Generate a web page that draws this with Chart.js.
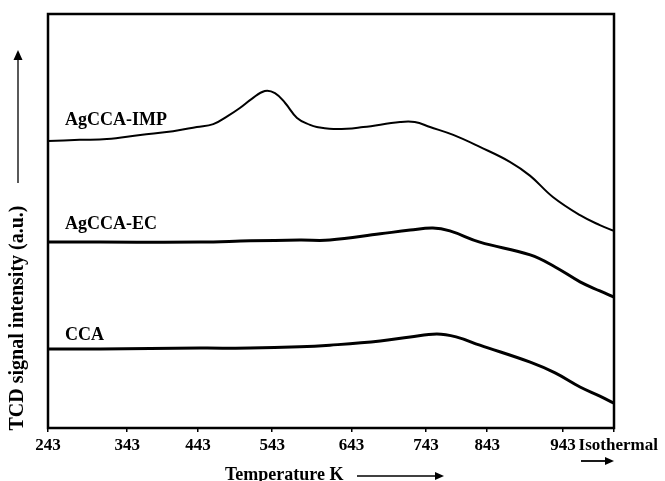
<!DOCTYPE html>
<html>
<head>
<meta charset="utf-8">
<script src="https://cdn.jsdelivr.net/npm/chart.js@4"></script>
<style>
  body { margin: 0; background: #fff; }
  #wrap { width: 665px; height: 481px; }
</style>
</head>
<body>
<div id="wrap"><canvas id="chart"></canvas></div>
<script>
// tick labels along the temperature axis (unevenly spaced in the figure)
var tickLabels = ["243", "343", "443", "543", "643", "743", "843", "943", "  Isothermal"];
var tickPos = [0, 14.0, 26.5, 39.6, 53.6, 66.8, 77.6, 91.0, 100];

// AgCCA-IMP
var impX = [0, 5.6, 10.4, 16.3, 22.1, 26.3, 29.2, 31.8, 33.9, 36.0, 38.3, 40.1, 41.9, 44.0, 46.3, 47.5, 51.1, 55.7, 62.2, 64.8, 67.5, 71.6, 76.3, 81.6, 85.2, 89.2, 94.0, 97.5, 100];
var impY = [69.3, 69.6, 69.8, 70.8, 71.7, 72.7, 73.4, 75.4, 77.3, 79.5, 81.4, 80.9, 78.5, 74.9, 73.2, 72.7, 72.2, 72.7, 73.9, 73.9, 72.7, 70.8, 67.9, 64.3, 60.9, 55.8, 51.4, 49.0, 47.6];

// AgCCA-EC
var ecX = [0, 9.2, 26.9, 35.7, 44.5, 49.8, 58.7, 64.0, 68.0, 71.0, 76.3, 85.2, 89.6, 94.0, 97.5, 100];
var ecY = [44.9, 44.9, 44.9, 45.2, 45.4, 45.4, 46.9, 47.8, 48.3, 47.6, 44.9, 41.8, 38.9, 35.3, 33.1, 31.6];

// CCA
var ccaX = [0, 9.2, 26.9, 35.7, 44.5, 49.8, 58.7, 64.0, 68.7, 72.1, 76.3, 85.2, 89.6, 94.0, 97.5, 100];
var ccaY = [19.1, 19.1, 19.3, 19.3, 19.6, 20.0, 21.0, 22.0, 22.7, 22.0, 20.0, 15.9, 13.3, 9.9, 7.7, 6.0];

var seriesNames = ["AgCCA-IMP", "AgCCA-EC", "CCA"];

function pts(xs, ys) {
    return xs.map(function (x, i) { return {x: x, y: ys[i]}; });
}

var fontFam = "'Liberation Serif', 'Times New Roman', serif";

function arrow(ctx, x1, y1, x2, y2, head) {
    var a = Math.atan2(y2 - y1, x2 - x1);
    ctx.beginPath();
    ctx.moveTo(x1, y1);
    ctx.lineTo(x2 - Math.cos(a) * head * 0.8, y2 - Math.sin(a) * head * 0.8);
    ctx.stroke();
    ctx.beginPath();
    ctx.moveTo(x2, y2);
    ctx.lineTo(x2 - head * Math.cos(a) + head * 0.45 * Math.sin(a), y2 - head * Math.sin(a) - head * 0.45 * Math.cos(a));
    ctx.lineTo(x2 - head * Math.cos(a) - head * 0.45 * Math.sin(a), y2 - head * Math.sin(a) + head * 0.45 * Math.cos(a));
    ctx.closePath();
    ctx.fill();
}

// frame, curve names, axis titles with arrows
var decor = {
    id: "decor",
    afterDraw: function (chart) {
        var ctx = chart.ctx, a = chart.chartArea;
        var xs = chart.scales.x, ys = chart.scales.y;
        ctx.save();
        ctx.strokeStyle = "#000";
        ctx.fillStyle = "#000";
        ctx.lineWidth = 2.5;
        ctx.strokeRect(a.left, a.top, a.right - a.left, a.bottom - a.top);

        // curve names
        ctx.font = "bold 18px " + fontFam;
        ctx.textAlign = "left";
        ctx.textBaseline = "middle";
        var nameAt = [[3, 74.2], [3, 49.3], [3, 22.3]];
        seriesNames.forEach(function (n, i) {
            ctx.fillText(n, xs.getPixelForValue(nameAt[i][0]), ys.getPixelForValue(nameAt[i][1]));
        });

        // x title
        ctx.fillText("Temperature K", 225, 475);
        ctx.lineWidth = 1.3;
        arrow(ctx, 357, 476, 444, 476, 9);
        // arrow under Isothermal
        ctx.lineWidth = 1.8;
        arrow(ctx, 581, 461, 614, 461, 9);

        // y title
        ctx.font = "bold 20px " + fontFam;
        ctx.translate(18, 318);
        ctx.rotate(-Math.PI / 2);
        ctx.textAlign = "center";
        ctx.fillText("TCD signal intensity (a.u.)", 0, 0);
        ctx.lineWidth = 1.3;
        arrow(ctx, 135, 0, 268, 0, 10);
        ctx.restore();
    }
};

var ctx = document.getElementById("chart").getContext("2d");
var chart = new Chart(ctx, {
    type: "line",
    data: {
        datasets: [
            {label: seriesNames[0], data: pts(impX, impY), borderWidth: 2},
            {label: seriesNames[1], data: pts(ecX, ecY), borderWidth: 3},
            {label: seriesNames[2], data: pts(ccaX, ccaY), borderWidth: 3}
        ].map(function (d) {
            d.borderColor = "#000";
            d.pointRadius = 0;
            d.tension = 0.4;
            d.fill = false;
            return d;
        })
    },
    options: {
        responsive: true,
        maintainAspectRatio: false,
        animation: false,
        layout: {padding: {top: 14, right: 51, left: 0, bottom: 0}},
        plugins: {legend: {display: false}, tooltip: {enabled: false}},
        scales: {
            x: {
                type: "linear",
                min: 0,
                max: 100,
                afterBuildTicks: function (s) {
                    s.ticks = tickPos.map(function (v) { return {value: v}; });
                },
                afterFit: function (s) { s.height = 53; },
                ticks: {
                    autoSkip: false,
                    maxRotation: 0,
                    color: "#000",
                    padding: 3,
                    font: {family: fontFam, size: 17, weight: "bold"},
                    callback: function (v, i) { return tickLabels[i]; }
                },
                grid: {drawOnChartArea: false, tickLength: 4, color: "#000", lineWidth: 1.5},
                border: {display: false}
            },
            y: {
                min: 0,
                max: 100,
                afterFit: function (s) { s.width = 48; },
                ticks: {display: false},
                grid: {display: false},
                border: {display: false}
            }
        }
    },
    plugins: [decor]
});
</script>
</body>
</html>
